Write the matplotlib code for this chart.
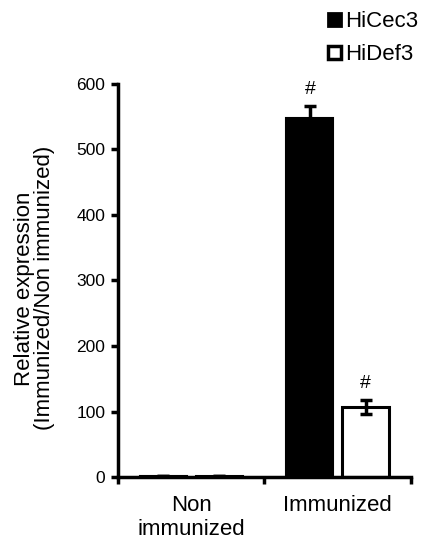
import matplotlib
matplotlib.use("Agg")
import matplotlib.pyplot as plt
import numpy as np
from matplotlib.patches import Patch

plt.rcParams['font.family'] = ['Liberation Sans', 'DejaVu Sans']

categories = ["Non\nimmunized", "Immunized"]
series = ["HiCec3", "HiDef3"]
cec3 = [2, 548]
cec3_err = [0, 19]
def3 = [2, 107]
def3_err = [0, 11]
sig_cec3 = ["", "#"]
sig_def3 = ["", "#"]
yticks = [0, 100, 200, 300, 400, 500, 600]

fig = plt.figure(figsize=(4.27, 5.5), dpi=100)
ax = fig.add_axes([0.276, 0.1327, 0.6865, 0.7146])

x = np.arange(len(categories))
w = 0.32
off = 0.19
ax.bar(x - off, cec3, w, color='black', edgecolor='black', linewidth=1.5,
       yerr=cec3_err, error_kw=dict(ecolor='black', elinewidth=2.5, capsize=4.5, capthick=2.5))
ax.bar(x + off, def3, w, color='white', edgecolor='black', linewidth=2.2,
       yerr=def3_err, error_kw=dict(ecolor='black', elinewidth=2.5, capsize=4.5, capthick=2.5))

for i in range(len(categories)):
    if sig_cec3[i]:
        ax.text(x[i] - off, cec3[i] + cec3_err[i] + 12, sig_cec3[i], ha='center', va='bottom', fontsize=14)
    if sig_def3[i]:
        ax.text(x[i] + off, def3[i] + def3_err[i] + 12, sig_def3[i], ha='center', va='bottom', fontsize=14)

ax.set_xlim(-0.5, 1.5)
ax.set_ylim(0, 600)
ax.set_yticks(yticks)
ax.set_yticklabels([str(t) for t in yticks], fontsize=12.5)
ax.set_xticks([-0.5, 0.5, 1.5])
ax.set_xticklabels([])
ax.set_xticks(x, minor=True)
ax.set_xticklabels(categories, minor=True, fontsize=16, linespacing=1.2)
ax.tick_params(axis='x', which='minor', length=0, pad=13)
ax.tick_params(axis='x', which='major', direction='out', length=5, width=2.5)
ax.tick_params(axis='y', direction='out', length=5, width=2.5, pad=4)
for s in ['top', 'right']:
    ax.spines[s].set_visible(False)
for s in ['left', 'bottom']:
    ax.spines[s].set_linewidth(2.5)
ax.set_ylabel("Relative expression\n(Immunized/Non immunized)", fontsize=16, linespacing=0.95)
ax.yaxis.set_label_coords(-0.215, 0.48)

handles = [Patch(facecolor='black', edgecolor='black', linewidth=2),
           Patch(facecolor='white', edgecolor='black', linewidth=2.5)]
fig.legend(handles, series, loc='upper left', bbox_to_anchor=(0.722, 1.016), frameon=False,
           fontsize=16, handlelength=0.55, handleheight=0.55, handletextpad=0.2, labelspacing=0.55)

fig.savefig("out.png", dpi=100)
